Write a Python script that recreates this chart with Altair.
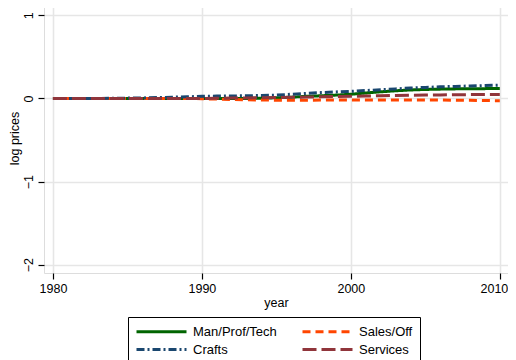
import altair as alt
import pandas as pd

years = list(range(1980, 2011))
man_prof_tech = [0, 0, 0, 0, 0, 0, 0, 0, 0, 0,
                 0, 0, 0, 0, 0.003, 0.008, 0.015, 0.025, 0.032, 0.04,
                 0.05, 0.065, 0.08, 0.092, 0.102, 0.108, 0.112, 0.115, 0.117, 0.118, 0.12]
crafts = [0, 0, 0, 0, 0.002, 0.004, 0.006, 0.01, 0.015, 0.02,
          0.025, 0.028, 0.03, 0.032, 0.035, 0.04, 0.05, 0.06, 0.07, 0.078,
          0.086, 0.095, 0.105, 0.115, 0.125, 0.133, 0.14, 0.145, 0.15, 0.155, 0.16]
sales_off = [0, 0, 0, 0, 0, 0, 0, 0, 0, 0,
             -0.003, -0.008, -0.012, -0.016, -0.019, -0.021, -0.022, -0.021, -0.02, -0.019,
             -0.018, -0.018, -0.018, -0.018, -0.018, -0.018, -0.019, -0.021, -0.023, -0.025, -0.027]
services = [0, 0, 0, 0, 0, 0, 0, 0, 0, 0,
            0, 0.002, 0.004, 0.006, 0.008, 0.01, 0.013, 0.017, 0.02, 0.023,
            0.026, 0.029, 0.032, 0.035, 0.038, 0.04, 0.042, 0.044, 0.046, 0.047, 0.048]

series_names = ["Man/Prof/Tech", "Sales/Off", "Crafts", "Services"]
series_vals = [man_prof_tech, sales_off, crafts, services]
colors = ["#006400", "#ff4500", "#1a476f", "#90353b"]
dashes = [[1, 0], [8, 5], [8, 3, 2, 3], [14, 5]]
x_ticks = [1980, 1990, 2000, 2010]
y_ticks = [-2, -1, 0, 1]

rows = []
for name, vals in zip(series_names, series_vals):
    for y, v in zip(years, vals):
        rows.append({"year": y, "value": v, "series": name})
df = pd.DataFrame(rows)

FONT = "Liberation Sans"

legend_cfg = dict(
    title=None, orient="none", legendX=84, legendY=310, direction="horizontal",
    columns=2, symbolType="M-4.1667,0H4.1667", symbolSize=144, symbolOffset=19,
    symbolStrokeWidth=3, labelFontSize=13, labelColor="black", labelOffset=24,
    columnPadding=19, rowPadding=3, padding=7, strokeColor="black",
    fillColor="white", labelLimit=200,
)

chart = alt.Chart(df).mark_line(strokeWidth=3).encode(
    x=alt.X("year:Q",
            scale=alt.Scale(domain=[1979.4, 2010.55], nice=False, zero=False),
            axis=alt.Axis(values=x_ticks, format="d", title="year", domain=False,
                          tickSize=6, tickColor="black", tickWidth=1.2,
                          labelFontSize=12.5, labelPadding=3, labelColor="black",
                          labelAlign={"condition": {"test": "datum.value == 2010",
                                                    "value": "right"},
                                      "value": "center"},
                          labelOffset={"condition": {"test": "datum.value == 2010",
                                                     "value": 8},
                                       "value": 0},
                          titleFontSize=12.5, titleFontWeight="normal", titlePadding=2,
                          titleColor="black",
                          gridColor="#e6e6e6", gridWidth=1.6)),
    y=alt.Y("value:Q",
            scale=alt.Scale(domain=[-2.1, 1.1], nice=False, zero=False),
            axis=alt.Axis(values=y_ticks, format="d", title="log prices", domain=False,
                          tickSize=6, tickColor="black", tickWidth=1.2,
                          labelFontSize=12.5, labelAngle=270, labelAlign="center",
                          labelBaseline="middle", labelPadding=10, labelColor="black",
                          titleFontSize=12.5, titleFontWeight="normal",
                          titleX=-30, titleY=131, titleAngle=270, titleAlign="center",
                          titleBaseline="middle", titleColor="black",
                          gridColor="#e6e6e6", gridWidth=1.6)),
    color=alt.Color("series:N",
                    scale=alt.Scale(domain=series_names, range=colors),
                    legend=alt.Legend(**legend_cfg)),
    strokeDash=alt.StrokeDash("series:N",
                              scale=alt.Scale(domain=series_names, range=dashes),
                              legend=alt.Legend(**legend_cfg)),
    order=alt.Order("year:Q"),
).properties(
    width=464, height=266,
    autosize=alt.AutoSizeParams(type="none"),
    padding={"left": 36, "top": -1, "right": 0, "bottom": 87},
).configure_view(
    stroke="black", strokeWidth=1.5
).configure(
    font=FONT, background="white"
)

chart.save("out.html", embed_options={"renderer": "svg", "actions": False})
